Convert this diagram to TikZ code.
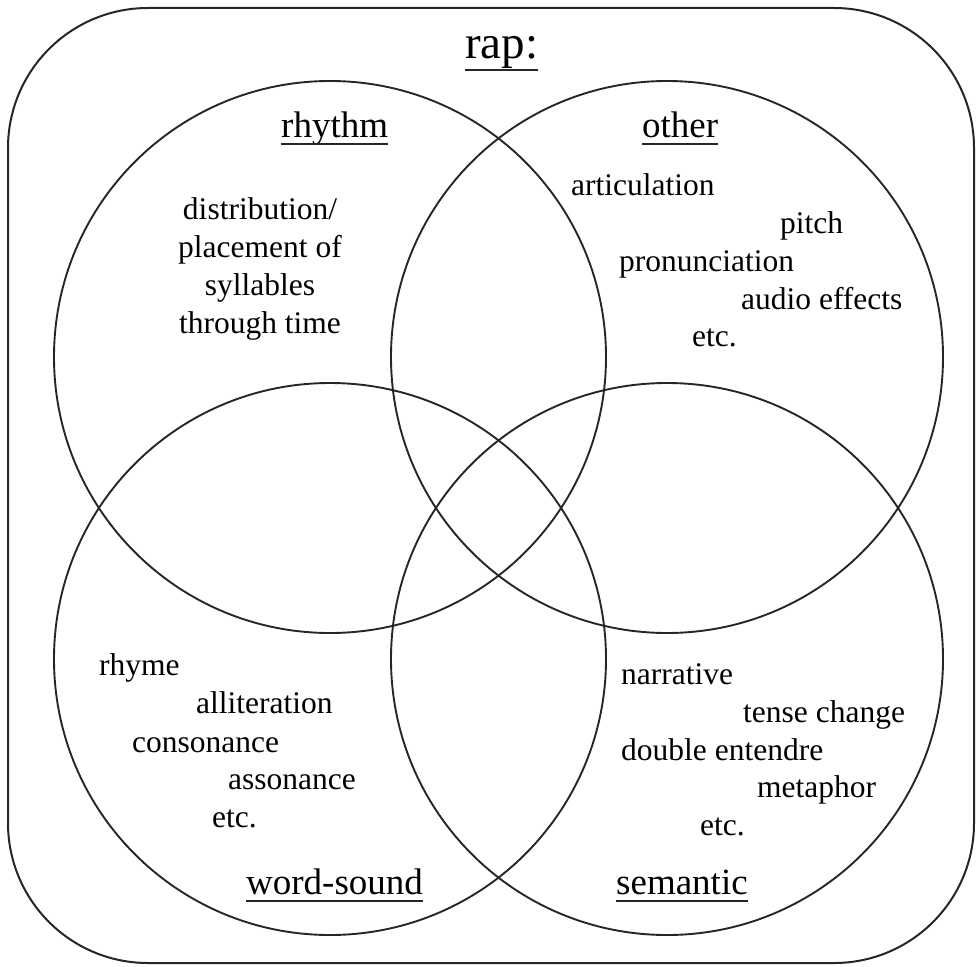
\documentclass[tikz,border=0pt]{standalone}
\usepackage{fontspec}
\setmainfont{Liberation Serif}
\begin{document}
\begin{tikzpicture}[x=1pt,y=-1pt,
  outline/.style={draw=black!85,line width=2pt},
  ring/.style={draw=black!85,line width=1.9pt},
  title/.style={inner sep=0pt,anchor=base west,font=\fontsize{47}{56}\selectfont},
  head/.style={inner sep=0pt,anchor=base west,font=\fontsize{37}{44}\selectfont},
  item/.style={inner sep=0pt,anchor=base west,font=\fontsize{31.5}{38}\selectfont},
  uline/.style={draw=black!85,line width=2.4pt}]
\useasboundingbox (0,0) rectangle (976,966);
% frame around everything
\draw[outline,rounded corners=140pt] (8,8) rectangle (974,963);
% the four sets
\draw[ring] (330,357) circle[radius=276];
\draw[ring] (667,357) circle[radius=276];
\draw[ring] (330,659) circle[radius=276];
\draw[ring] (667,659) circle[radius=276];
% headings
\node[title] (rap) at (465,59) {rap:};
\node[head] (rhythm) at (281,137) {rhythm};
\node[head] (other) at (642,137) {other};
\node[head] (wordsound) at (246,894) {word-sound};
\node[head] (semantic) at (616,894) {semantic};
\draw[uline,line width=2.8pt] ([yshift=-11pt]rap.base west) -- ([yshift=-11pt]rap.base east);
\foreach \h in {rhythm,other,wordsound,semantic}
  \draw[uline] ([yshift=-7pt]\h.base west) -- ([yshift=-7pt]\h.base east);
% rhythm
\node[inner sep=0pt,anchor=north,align=center,font=\fontsize{31.5}{38}\selectfont] (rhy) at (260,197)
  {distribution/\\placement of\\syllables\\through time};
% other
\node[item] (o1) at (571,195) {articulation};
\node[item] (o2) at (780,233) {pitch};
\node[item] (o3) at (619,271) {pronunciation};
\node[item] (o4) at (741,309) {audio effects};
\node[item] (o5) at (692,346) {etc.};
% word-sound
\node[item] (w1) at (99,675) {rhyme};
\node[item] (w2) at (196,713) {alliteration};
\node[item] (w3) at (132,752) {consonance};
\node[item] (w4) at (228,789) {assonance};
\node[item] (w5) at (212,827) {etc.};
% semantic
\node[item] (s1) at (621,684) {narrative};
\node[item] (s2) at (743,722) {tense change};
\node[item] (s3) at (621,760) {double entendre};
\node[item] (s4) at (757,797) {metaphor};
\node[item] (s5) at (700,835) {etc.};
\end{tikzpicture}
\end{document}
